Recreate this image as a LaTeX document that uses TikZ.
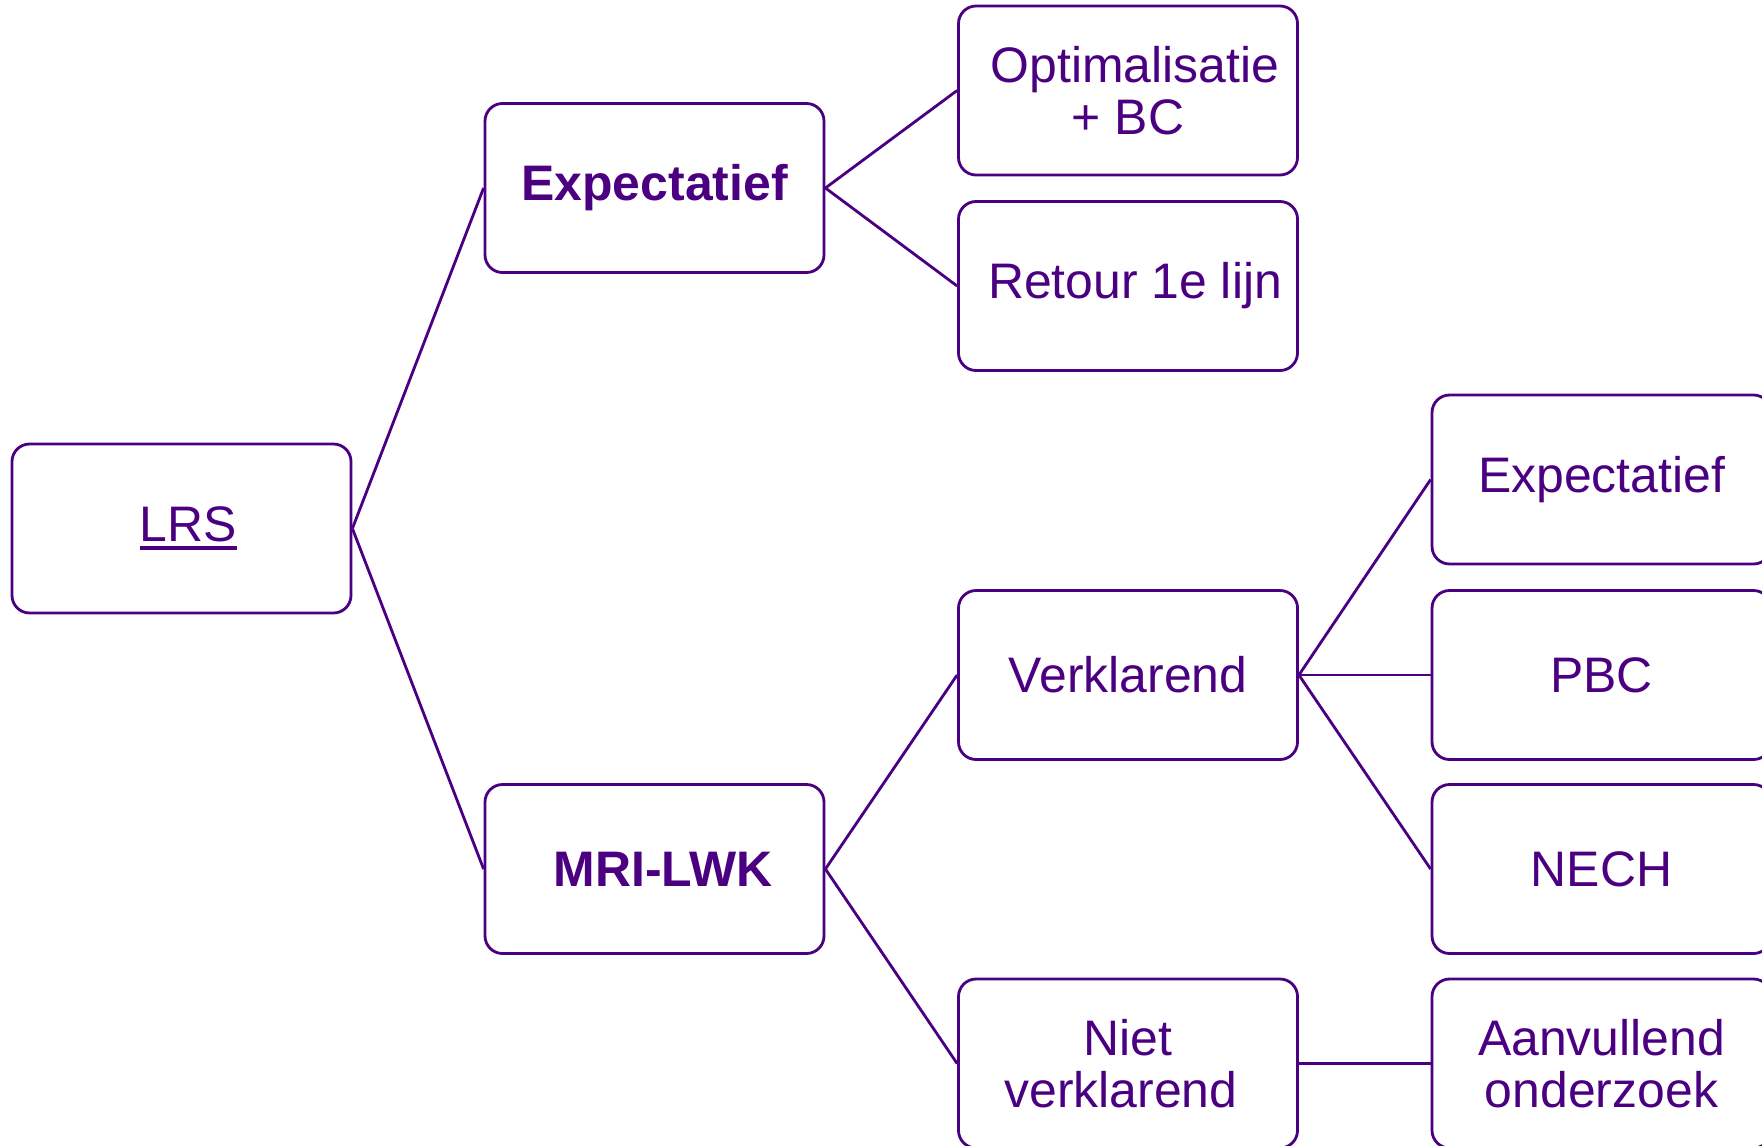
\documentclass[tikz,border=0pt]{standalone}
\usepackage{fontspec}
\setmainfont{Liberation Sans}
\usepackage{tikz}
\usetikzlibrary{positioning}
\definecolor{lrspurple}{HTML}{4B0082}
\newcommand{\thickuline}[1]{%
  \setbox0\hbox{#1}\rlap{\rule[-2.3pt]{\wd0}{1.1pt}}\box0}

\begin{document}
\begin{tikzpicture}[
  every node/.style={font=\fontsize{14.2}{14.7}\selectfont},
  treebox/.style={rectangle, rounded corners=5pt, draw=lrspurple, line width=0.8pt,
                  fill=white, text=lrspurple, align=center,
                  minimum width=3.39cm, minimum height=1.69cm, inner sep=2pt},
  headbox/.style={treebox, font=\fontsize{14.2}{14.7}\selectfont\bfseries},
  branch/.style={line width=0.8pt, lrspurple}
]
\useasboundingbox (0,0) rectangle (17.62,11.45);

% wortel
\node[treebox] (lrs) at (1.815,6.165) {\hspace{4pt}\thickuline{LRS}};

% eerste niveau
\node[headbox] (expect) at (6.545,9.57) {\raisebox{-1.2pt}{Expectatief}};
\node[headbox] (mri) at (6.545,2.76) {\hspace{5pt}MRI-LWK};

% tweede niveau
\node[treebox] (optim) at (11.28,10.545) {\hspace{4pt}Optimalisatie\\+ BC};
\node[treebox] (retour) at (11.28,8.59) {\hspace{4pt}Retour 1e lijn};
\node[treebox] (verkl) at (11.28,4.70) {Verklarend};
\node[treebox] (nietverkl) at (11.28,0.815) {Niet\\verklarend\hspace*{4pt}};

% derde niveau
\node[treebox] (expect2) at (16.015,6.655) {Expectatief};
\node[treebox] (pbc) at (16.015,4.70) {PBC};
\node[treebox] (nech) at (16.015,2.76) {NECH};
\node[treebox] (aanv) at (16.015,0.815) {Aanvullend\\onderzoek};

% verbindingen
\draw[branch] (lrs.east) -- (expect.west);
\draw[branch] (lrs.east) -- (mri.west);
\draw[branch] (expect.east) -- (optim.west);
\draw[branch] (expect.east) -- (retour.west);
\draw[branch] (mri.east) -- (verkl.west);
\draw[branch] (mri.east) -- (nietverkl.west);
\draw[branch] (verkl.east) -- (expect2.west);
\draw[branch] (verkl.east) -- (pbc.west);
\draw[branch] (verkl.east) -- (nech.west);
\draw[branch] (nietverkl.east) -- (aanv.west);

\end{tikzpicture}
\end{document}
